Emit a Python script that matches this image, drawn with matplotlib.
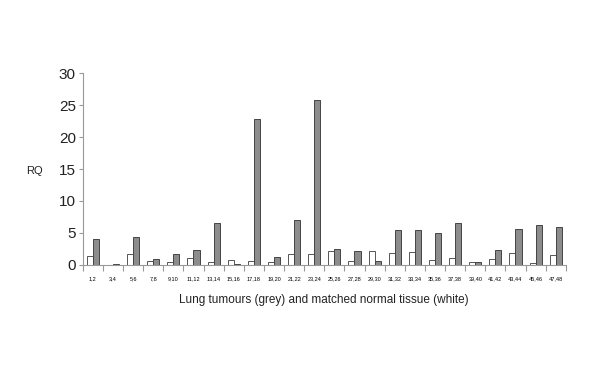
import numpy as np
import matplotlib.pyplot as plt

plt.rcParams['font.family'] = ['Liberation Sans', 'DejaVu Sans']

# sample pairs (normal, tumour)
labels = ['1,2', '3,4', '5,6', '7,8', '9,10', '11,12', '13,14', '15,16', '17,18', '19,20',
          '21,22', '23,24', '25,26', '27,28', '29,30', '31,32', '33,34', '35,36', '37,38',
          '39,40', '41,42', '43,44', '45,46', '47,48']
normal = [1.4, 0.0, 1.7, 0.6, 0.45, 1.1, 0.5, 0.8, 0.6, 0.45,
          1.7, 1.7, 2.2, 0.6, 2.2, 1.9, 2.0, 0.7, 1.1, 0.4,
          0.9, 1.9, 0.3, 1.5]
tumour = [4.0, 0.15, 4.4, 0.95, 1.7, 2.35, 6.6, 0.15, 22.8, 1.3,
          7.0, 25.8, 2.5, 2.2, 0.65, 5.4, 5.5, 5.0, 6.5, 0.4,
          2.4, 5.7, 6.3, 5.9]

fig = plt.figure(figsize=(6, 3.67), dpi=100)
ax = fig.add_axes([0.138, 0.278, 0.805, 0.523])

x = np.arange(len(labels))
w = 0.3
ax.bar(x - w / 2, normal, w, color='white', edgecolor='#555555', linewidth=0.7)
ax.bar(x + w / 2, tumour, w, color='#8c8c8c', edgecolor='#444444', linewidth=0.7)

ax.set_xlim(-0.5, len(labels) - 0.5)
ax.set_ylim(0, 30)
ax.set_yticks([0, 5, 10, 15, 20, 25, 30])

ax.spines['top'].set_visible(False)
ax.spines['right'].set_visible(False)
ax.spines['left'].set_color('#999999')
ax.spines['bottom'].set_color('#999999')
ax.spines['left'].set_linewidth(0.8)
ax.spines['bottom'].set_linewidth(0.8)

ax.set_xticks(x)
ax.set_xticklabels(labels, fontsize=4)
ax.tick_params(axis='x', which='major', length=0, pad=8)
ax.set_xticks(np.arange(-0.5, len(labels)), minor=True)
ax.tick_params(axis='x', which='minor', length=4, color='#999999', width=0.8)
ax.tick_params(axis='y', labelsize=11, length=3, color='#999999', width=0.8, pad=2,
               labelcolor='#222222')

ax.set_xlabel('Lung tumours (grey) and matched normal tissue (white)', fontsize=8.5,
              labelpad=9, color='#222222')
fig.text(0.058, 0.535, 'RQ', fontsize=8, ha='center', va='center', color='#222222')

fig.savefig('out.png', dpi=100)
